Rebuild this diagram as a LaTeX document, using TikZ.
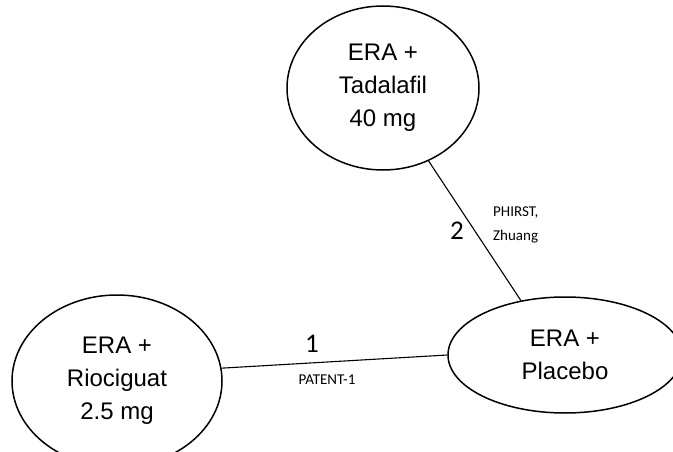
\documentclass[tikz,border=0pt]{standalone}
\usepackage{fontspec}
\setmainfont{Liberation Sans}
\newfontfamily\calibri{Carlito}
\usetikzlibrary{shapes.geometric}
\begin{document}
\begin{tikzpicture}[x=1pt,y=-1pt,
  trt/.style={ellipse,draw,line width=1.5pt,inner sep=0pt,align=center,
    font=\fontsize{24}{33}\selectfont},
  link/.style={line width=1.1pt},
  num/.style={font=\calibri\fontsize{27}{30}\selectfont,inner sep=0pt},
  study/.style={font=\calibri\fontsize{15}{24}\selectfont,inner sep=0pt,align=left}]
\useasboundingbox (0,0) rectangle (673,452);
\begin{scope}
\clip (0,0) rectangle (673,452);
\node[trt,minimum width=192pt,minimum height=164pt] (tad) at (383,88) {ERA +\\Tadalafil\\40 mg};
\node[trt,minimum width=234pt,minimum height=116pt] (pla) at (565,355) {ERA +\\Placebo};
\node[trt,minimum width=210pt,minimum height=172pt] (rio) at (117,381) {ERA +\\Riociguat\\2.5 mg};
\draw[link] (tad.-58) -- (pla.129.6);
\draw[link] (rio.7) -- (pla.180);
\end{scope}
\node[num] (n2) at (457,231) {2};
\node[study,anchor=west] (s2) at (493,225) {PHIRST,\\Zhuang};
\node[num] (n1) at (312,344) {1};
\node[study] (s1) at (327,380) {PATENT-1};
\end{tikzpicture}
\end{document}
